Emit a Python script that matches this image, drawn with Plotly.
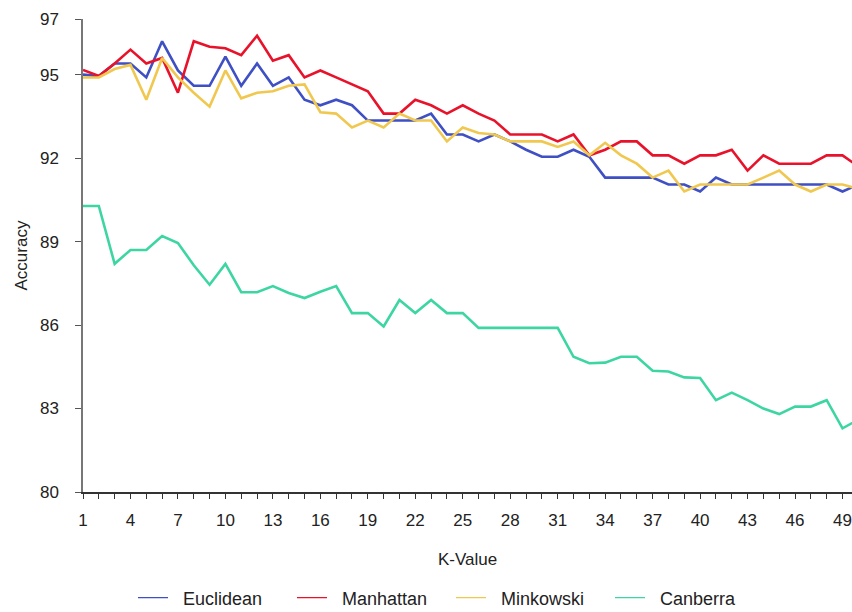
import plotly.graph_objects as go

k_values = list(range(1, 51))

euclidean = [95.0, 94.95, 95.4, 95.4, 94.9, 96.2, 95.15, 94.6, 94.6, 95.65,
             94.6, 95.4, 94.6, 94.9, 94.1, 93.9, 94.1, 93.9, 93.35, 93.35,
             93.35, 93.35, 93.6, 92.85, 92.85, 92.6, 92.85, 92.6, 92.3, 92.05,
             92.05, 92.3, 92.05, 91.3, 91.3, 91.3, 91.3, 91.05, 91.05, 90.8,
             91.3, 91.05, 91.05, 91.05, 91.05, 91.05, 91.05, 91.05, 90.8, 91.05]

manhattan = [95.17, 94.95, 95.4, 95.9, 95.4, 95.6, 94.35, 96.2, 96.0, 95.95,
             95.7, 96.4, 95.5, 95.7, 94.9, 95.15, 94.9, 94.65, 94.4, 93.6,
             93.6, 94.1, 93.9, 93.6, 93.9, 93.6, 93.35, 92.85, 92.85, 92.85,
             92.6, 92.85, 92.1, 92.3, 92.6, 92.6, 92.1, 92.1, 91.8, 92.1,
             92.1, 92.3, 91.55, 92.1, 91.8, 91.8, 91.8, 92.1, 92.1, 91.7]

minkowski = [94.9, 94.9, 95.2, 95.35, 94.1, 95.6, 94.9, 94.35, 93.85, 95.15,
             94.15, 94.35, 94.4, 94.6, 94.65, 93.65, 93.6, 93.1, 93.35, 93.1,
             93.6, 93.35, 93.35, 92.6, 93.1, 92.9, 92.85, 92.6, 92.6, 92.6,
             92.4, 92.6, 92.1, 92.55, 92.1, 91.8, 91.3, 91.55, 90.8, 91.05,
             91.05, 91.05, 91.05, 91.3, 91.55, 91.05, 90.8, 91.05, 91.05, 90.9]

canberra = [90.28, 90.28, 88.2, 88.7, 88.7, 89.2, 88.95, 88.15, 87.45, 88.2,
            87.18, 87.18, 87.4, 87.15, 86.97, 87.2, 87.4, 86.43, 86.43, 85.95,
            86.9, 86.43, 86.9, 86.43, 86.43, 85.9, 85.9, 85.9, 85.9, 85.9,
            85.9, 84.86, 84.63, 84.65, 84.86, 84.86, 84.36, 84.33, 84.12, 84.1,
            83.3, 83.57, 83.3, 83.0, 82.8, 83.07, 83.07, 83.3, 82.29, 82.6]

series_names = ["Euclidean", "Manhattan", "Minkowski", "Canberra"]
series_values = [euclidean, manhattan, minkowski, canberra]
series_colors = ["#3F4FC4", "#E8132A", "#F0C850", "#3DD6A3"]

y_ticks = [80, 83, 86, 89, 92, 95, 97]
x_tick_labels = [str(k) if (k - 1) % 3 == 0 else "" for k in k_values]
x_title = "K-Value"
y_title = "Accuracy"

FONT = "Liberation Sans, Arial, sans-serif"
NB = "\u00a0"

fig = go.Figure()
for name, vals, col in zip(series_names, series_values, series_colors):
    fig.add_trace(go.Scatter(x=k_values, y=vals, mode="lines", name=name,
                             line=dict(color=col, width=2.6), showlegend=False))
# thin legend entries
for name, col in zip(series_names, series_colors):
    fig.add_trace(go.Scatter(x=[None], y=[None], mode="lines", name=NB * 2 + name,
                             line=dict(color=col, width=1.2)))

fig.update_layout(
    width=852, height=612,
    margin=dict(l=83, r=0, t=19, b=120, autoexpand=False),
    paper_bgcolor="white", plot_bgcolor="white",
    font=dict(family=FONT, color="#222222"),
    legend=dict(orientation="h", x=0.065, xanchor="left", y=-0.224, yanchor="middle",
                font=dict(size=18, family=FONT, color="#222222"),
                entrywidth=114, entrywidthmode="pixels",
                itemwidth=30, tracegroupgap=0, bgcolor="rgba(0,0,0,0)"),
    showlegend=True,
    annotations=[dict(text=y_title, xref="paper", yref="paper", x=-0.0806, y=0.5,
                      xanchor="center", yanchor="middle", textangle=-90, showarrow=False,
                      font=dict(size=17, family=FONT, color="#222222"))],
)
fig.update_xaxes(
    range=[1, 49.6], tickmode="array", tickvals=k_values, ticktext=x_tick_labels,
    ticks="outside", ticklen=5, tickcolor="#333333", tickwidth=1.2,
    showline=True, linecolor="#333333", linewidth=1.5, showgrid=False, zeroline=False,
    tickfont=dict(size=17, family=FONT, color="#222222"),
    ticklabelstandoff=7, automargin=False,
    title=dict(text=x_title, font=dict(size=17, family=FONT, color="#222222"), standoff=24),
)
fig.update_yaxes(
    range=[80, 97], tickmode="array", tickvals=y_ticks,
    ticks="outside", ticklen=6, tickcolor="#555555", tickwidth=1.2,
    showline=True, linecolor="#777777", linewidth=1.5, showgrid=False, zeroline=False,
    tickfont=dict(size=17, family=FONT, color="#222222"),
    ticklabelstandoff=13, automargin=False,
)

# remove the browser's default 8px page margin so the figure fills the window
fig.write_html("out.html", config={"displayModeBar": False},
               post_script="document.body.style.margin='0';document.body.style.overflow='hidden';")
